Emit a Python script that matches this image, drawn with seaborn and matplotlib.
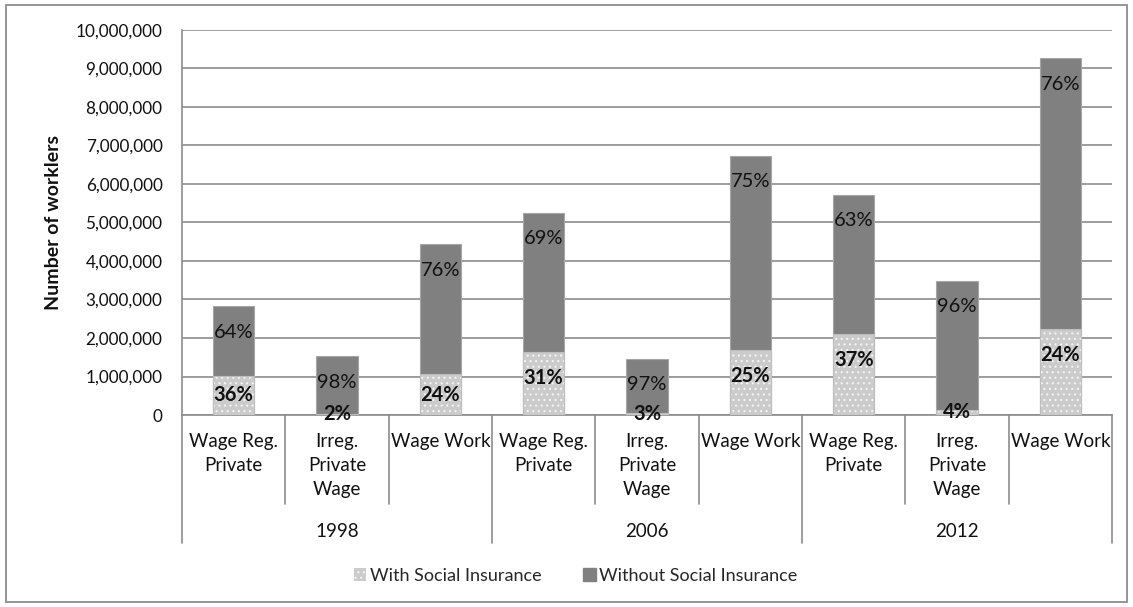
import matplotlib
matplotlib.use("Agg")
import matplotlib.pyplot as plt
from matplotlib.patches import Patch, Rectangle
from matplotlib.ticker import FuncFormatter, MultipleLocator
import matplotlib.transforms as mtransforms
import numpy as np
import pandas as pd
import seaborn as sns

# ---- data -------------------------------------------------------------
years = ["1998", "2006", "2012"]
groups = ["Wage Reg.\nPrivate", "Irreg.\nPrivate\nWage", "Wage Work"]
# total number of wage workers per group (all years, in order)
totals = [2830000, 1520000, 4430000,
          5250000, 1460000, 6740000,
          5720000, 3490000, 9260000]
# share of workers covered by social insurance (%)
with_pct = [36, 2, 24,
            31, 3, 25,
            37, 4, 24]
without_pct = [64, 98, 76,
               69, 97, 75,
               63, 96, 76]

series_names = ["With Social Insurance", "Without Social Insurance"]

# ---- frame --------------------------------------------------------------
slots = [f"{y}|{g}" for y in years for g in groups]
df = pd.DataFrame({
    "slot": slots,
    "total": totals,
    "with_pct": with_pct,
    "without_pct": without_pct,
})
df["with"] = df["total"] * df["with_pct"] / 100.0

# ---- style --------------------------------------------------------------
sns.set_theme(style="white")
plt.rcParams["font.family"] = ["Lato", "DejaVu Sans"]
plt.rcParams["hatch.linewidth"] = 0.8

DARK = "#808080"
LIGHT = "#cbcbcb"
GRID = "#8c8c8c"

fig = plt.figure(figsize=(11.33, 6.07), dpi=100)
ax = fig.add_axes([0.1606, 0.3163, 0.8209, 0.6343])

# full-height bars (without insurance on top of with insurance)
sns.barplot(data=df, x="slot", y="total", order=slots, color=DARK,
            width=0.4, edgecolor="#a6a6a6", linewidth=0.8, saturation=1,
            ax=ax, zorder=3, errorbar=None)
# insured part drawn over the base of each bar
sns.barplot(data=df, x="slot", y="with", order=slots, color=LIGHT,
            width=0.4, edgecolor="#bdbdbd", linewidth=0.8, saturation=1,
            ax=ax, zorder=4, errorbar=None)
n = len(slots)
for patch in ax.patches[n:]:
    patch.set_hatch("...")
    patch.set_edgecolor("#f4f4f4")
    patch.set_linewidth(0)
    # thin outline on top of the hatched fill
    outline = Rectangle(patch.get_xy(), patch.get_width(), patch.get_height(),
                        fill=False, edgecolor="#bdbdbd", linewidth=0.8, zorder=5)
    ax.add_patch(outline)

# ---- axes ---------------------------------------------------------------
ax.set_ylim(0, 10000000)
ax.set_xlim(-0.5, n - 0.5)
ax.yaxis.set_major_locator(MultipleLocator(1000000))
ax.yaxis.set_major_formatter(FuncFormatter(lambda v, _: f"{int(v):,}"))
ax.grid(axis="y", color=GRID, linewidth=1.2, zorder=0)
ax.set_axisbelow(True)
for s in ["top", "right"]:
    ax.spines[s].set_visible(False)
for s in ["left", "bottom"]:
    ax.spines[s].set_color(GRID)
    ax.spines[s].set_linewidth(1.2)
ax.tick_params(axis="y", which="major", direction="out", length=6,
               width=1.2, color=GRID, labelsize=12.3, labelcolor="#111111", pad=8)
ax.tick_params(axis="x", length=0)
ax.set_xticklabels([])
ax.set_xlabel("")
ax.set_ylabel("Number of worklers", fontsize=14, fontweight="bold",
              labelpad=10, color="#111111")

# ---- value labels -------------------------------------------------------
inset = 675000  # distance of the label centre below the top of a segment
for i, row in df.iterrows():
    ax.text(i, row["total"] - inset, f"{row['without_pct']}%",
            ha="center", va="center", fontsize=14.5, color="#111111", zorder=6)
    y_with = max(row["with"] - inset, row["with"] / 2.0)
    ax.text(i, y_with, f"{row['with_pct']}%", ha="center", va="center",
            fontsize=14.5, fontweight="bold", color="#111111", zorder=6)

# ---- two-level category axis --------------------------------------------
trans = mtransforms.blended_transform_factory(ax.transData, ax.transAxes)
for k in range(n + 1):
    xb = k - 0.5
    outer = (k % len(groups) == 0)
    y_end = -0.332 if outer else -0.231
    ax.plot([xb, xb], [0, y_end], transform=trans, color=GRID,
            linewidth=1.2, clip_on=False)
for i, slot in enumerate(slots):
    g = slot.split("|")[1]
    ax.text(i, -0.046, g, transform=trans, ha="center", va="top",
            fontsize=13.5, color="#111111", linespacing=1.5)
for j, y in enumerate(years):
    cx = j * len(groups) + (len(groups) - 1) / 2.0
    ax.text(cx, -0.302, y, transform=trans, ha="center", va="center",
            fontsize=13.5, color="#111111")

# ---- legend -------------------------------------------------------------
handles = [
    Patch(facecolor=LIGHT, edgecolor="#f4f4f4", hatch="...", linewidth=0),
    Patch(facecolor=DARK, edgecolor=DARK),
]
fig.legend(handles, series_names, loc="center", bbox_to_anchor=(0.508, 0.051),
           ncol=2, frameon=False, fontsize=13, handlelength=0.7,
           handleheight=0.7, handletextpad=0.2, columnspacing=2.3)

# chart frame
fig.patches.append(Rectangle((0.005, 0.008), 0.99, 0.984,
                             transform=fig.transFigure, fill=False,
                             edgecolor=GRID, linewidth=1.3))

fig.savefig("out.png", dpi=100)
